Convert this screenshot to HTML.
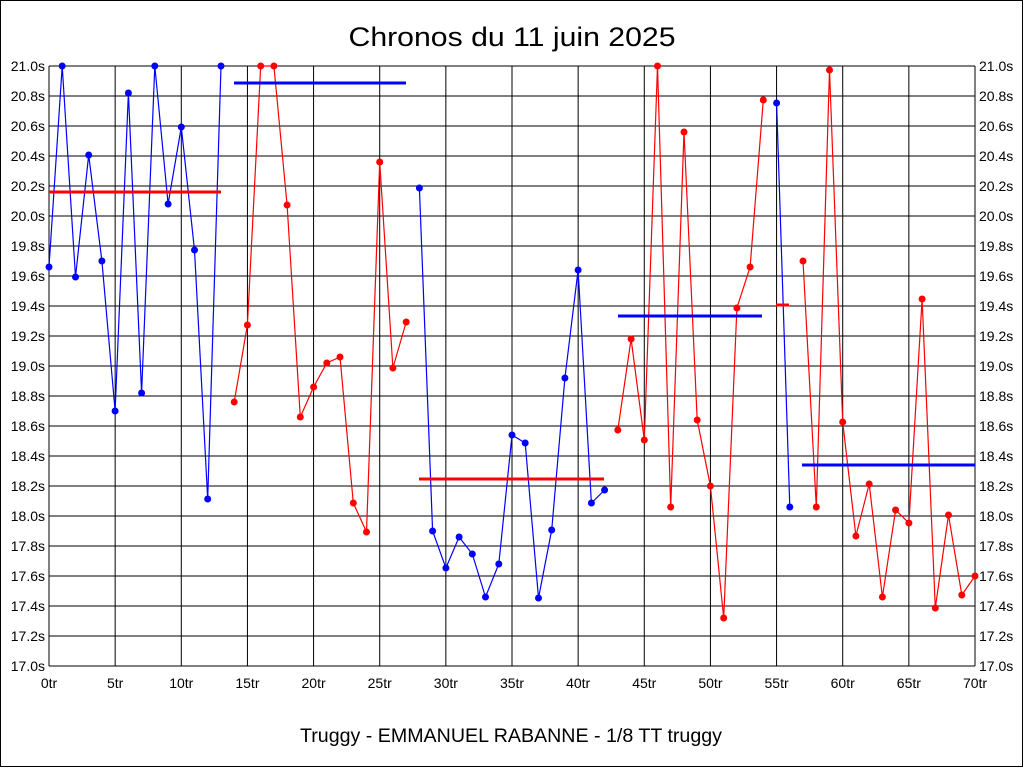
<!DOCTYPE html>
<html><head><meta charset="utf-8"><style>
html,body{margin:0;padding:0;background:#fff;}
svg{display:block;font-family:"Liberation Sans",Arial,sans-serif;}
</style></head><body>
<svg id="s" width="1024" height="768" xmlns="http://www.w3.org/2000/svg">
<rect x="0.5" y="0.5" width="1022" height="766" fill="#fff" stroke="#000"/>
<text x="512" y="46" font-size="27" text-anchor="middle" textLength="327" lengthAdjust="spacingAndGlyphs">Chronos du 11 juin 2025</text>
<text x="511" y="742" font-size="19" text-anchor="middle" textLength="422" lengthAdjust="spacingAndGlyphs">Truggy - EMMANUEL RABANNE - 1/8 TT truggy</text>
<g id="g"></g>
</svg>
<script>
var g=document.getElementById('g'),h='';
var X=function(i){return 49+i*926/70;};
for(var k=0;k<=20;k++){var y=66+k*30,v=(21-k*0.2).toFixed(1)+'s';
h+='<line x1="49" y1="'+y+'" x2="975" y2="'+y+'" stroke="#000" stroke-width="1"/>';
h+='<text x="45" y="'+(y+5)+'" font-size="14" text-anchor="end">'+v+'</text>';
h+='<text x="979" y="'+(y+5)+'" font-size="14">'+v+'</text>';}
for(var k=0;k<=14;k++){var x=X(k*5);
h+='<line x1="'+x+'" y1="66" x2="'+x+'" y2="666" stroke="#000" stroke-width="1"/>';
h+='<text x="'+x+'" y="688" font-size="14" text-anchor="middle">'+(k*5)+'tr</text>';}
var segs=[
['#00f',0,[267,66,277,155,261,411,93,393,66,204,127,250,499,66]],
['#f00',14,[402,325,66,66,205,417,387,363,357,503,532,162,368,322]],
['#00f',28,[188,531,568,537,554,597,564,435,443,598,530,378,270,503,490]],
['#f00',43,[430,339,440,66,507,132,420,486,618,308,267,100]],
['#00f',55,[103,507]],
['#f00',57,[261,507,70,422,536,484,597,510,523,299,608,515,595,576]]];
segs.forEach(function(s){var p=s[2].map(function(y,j){return X(s[1]+j).toFixed(1)+','+y;});
h+='<polyline points="'+p.join(' ')+'" fill="none" stroke="'+s[0]+'" stroke-width="1.2"/>';
s[2].forEach(function(y,j){h+='<circle cx="'+X(s[1]+j).toFixed(1)+'" cy="'+y+'" r="3.5" fill="'+s[0]+'"/>';});});
[['#f00',49,221,192],['#00f',234,406,83],['#f00',419,604,479],['#00f',618,762,316],['#f00',776,789,305],['#00f',802,975,465]].forEach(function(a){
h+='<line x1="'+a[1]+'" y1="'+a[3]+'" x2="'+a[2]+'" y2="'+a[3]+'" stroke="'+a[0]+'" stroke-width="3"/>';});
g.innerHTML=h;
</script>
</body></html>
